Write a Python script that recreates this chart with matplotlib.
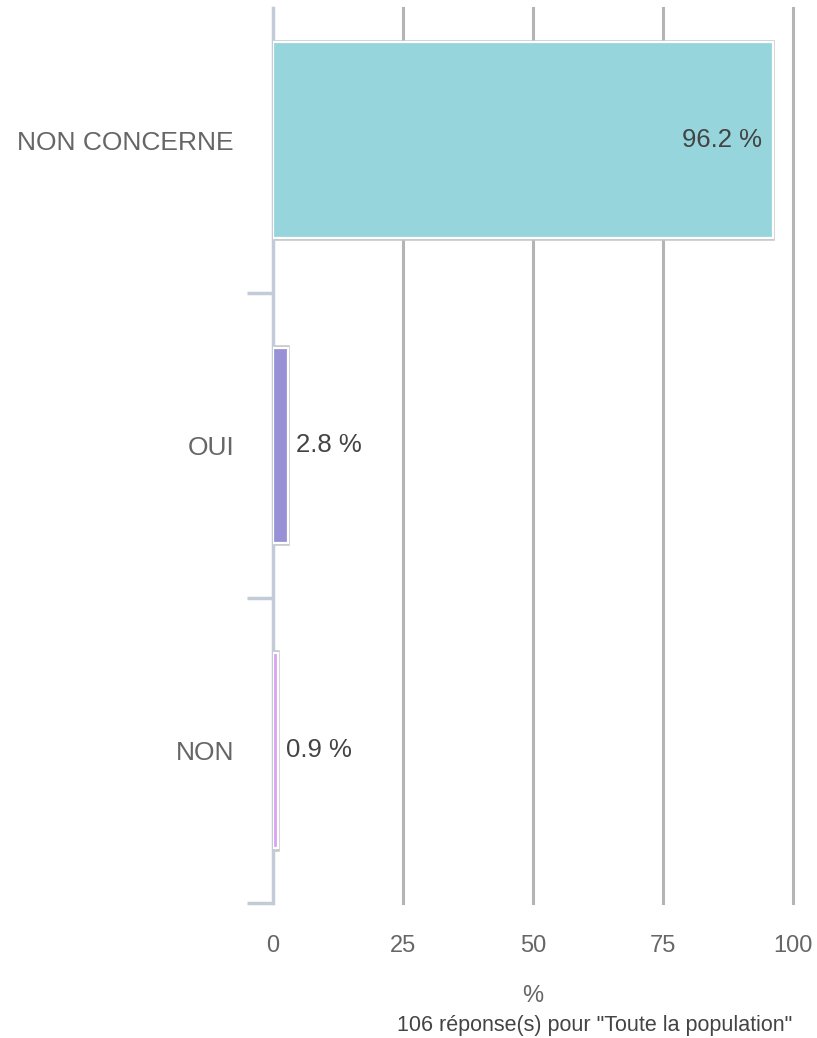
import matplotlib
matplotlib.use("Agg")
import matplotlib.pyplot as plt
from matplotlib.ticker import FixedLocator

categories = ["NON CONCERNE", "OUI", "NON"]
values = [96.2, 2.8, 0.9]
colors = ["#96d5dc", "#9891d6", "#d9a2f3"]
xticks = [0, 25, 50, 75, 100]
xlabel = "%"
footer = '106 réponse(s) pour "Toute la population"'

plt.rcParams['font.family'] = ['Liberation Sans', 'DejaVu Sans']

W, H = 817, 1038
fig = plt.figure(figsize=(W / 100, H / 100), dpi=100)
ax = fig.add_axes([273 / W, 1 - 903 / H, (793 - 273) / W, (903 - 8) / H])

pos = list(range(len(categories)))
ax.set_xlim(0, 100)
ax.set_ylim(2.5, -0.433)

# grid
for t in xticks[1:]:
    ax.axvline(t, color="#b4b4b4", lw=2.2, zorder=0, clip_on=False)

bh = 0.64
ax.barh(pos, values, height=bh + 0.01, color="none", edgecolor="#c4c4c4", lw=1.8, zorder=2)
ax.barh(pos, values, height=bh, color=colors, edgecolor="white", lw=1.6, zorder=3)

for p, v in zip(pos, values):
    txt = f"{v} %"
    if v > 50:
        ax.text(v - 2.1, p, txt, ha="right", va="center", fontsize=18.5, color="#444444", zorder=4)
    else:
        ax.text(v + 1.6, p, txt, ha="left", va="center", fontsize=18.5, color="#444444", zorder=4)

for s in ["top", "right", "bottom"]:
    ax.spines[s].set_visible(False)
ax.spines["left"].set_color("#c3cad8")
ax.spines["left"].set_linewidth(2.5)

ax.set_yticks(pos)
ax.set_yticklabels(categories, fontsize=19, color="#666666")
ax.tick_params(axis="y", which="major", length=0, pad=28)
ax.yaxis.set_minor_locator(FixedLocator([0.5, 1.5, 2.5]))
ax.tick_params(axis="y", which="minor", length=19, width=2.5, color="#c3cad8")

ax.set_xticks(xticks)
ax.set_xticklabels([str(t) for t in xticks], fontsize=17, color="#666666")
ax.tick_params(axis="x", length=0, pad=23)

ax.set_xlabel(xlabel, fontsize=17, color="#666666", labelpad=20)
fig.text(595 / W, 1 - 1025 / H, footer, ha="center", va="center", fontsize=15.5, color="#444444")

fig.savefig("out.png", dpi=100)
